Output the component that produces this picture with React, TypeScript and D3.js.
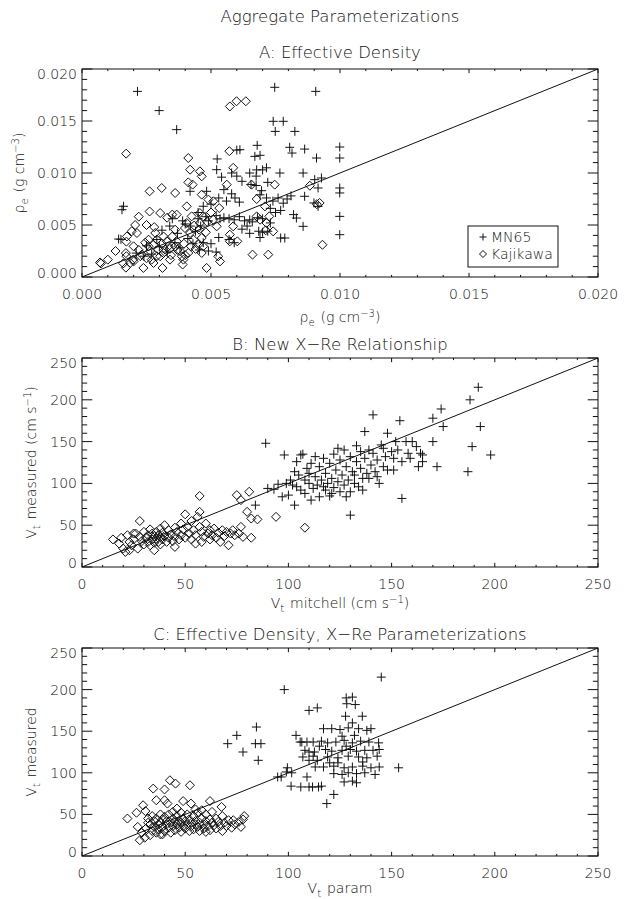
import React from "react";
import * as d3 from "d3";

const W = 630;
const H = 899;
const LEFT = 82;
const RIGHT = 598;

// ---------- Panel A: Effective density (g cm^-3) ----------
const aTicks = [0, 0.005, 0.01, 0.015, 0.02];
const aMN65: [number, number][] = [
  [0.00215, 0.01785], [0.00299, 0.016], [0.00367, 0.01417], [0.00747, 0.01824], [0.00906, 0.01785],
  [0.00161, 0.0068], [0.00155, 0.00647], [0.00142, 0.00365], [0.00151, 0.00362],
  [0.00741, 0.01497], [0.0078, 0.01497], [0.00749, 0.014], [0.00825, 0.014],
  [0.00679, 0.01266], [0.00612, 0.01224], [0.006, 0.0122],
  [0.00805, 0.01247], [0.00814, 0.01192], [0.00863, 0.0123], [0.00909, 0.01144],
  [0.00524, 0.01135], [0.00522, 0.01032], [0.00541, 0.0096],
  [0.0067, 0.0116], [0.0069, 0.0117], [0.007, 0.0103], [0.00715, 0.0105], [0.00677, 0.0103],
  [0.00767, 0.01], [0.00857, 0.01], [0.00902, 0.00936], [0.00928, 0.00952], [0.00915, 0.00856],
  [0.00863, 0.00776], [0.00899, 0.00712], [0.00915, 0.00679], [0.00857, 0.00487], [0.00831, 0.00567],
  [0.00999, 0.0125], [0.00999, 0.01144], [0.00999, 0.00856], [0.00999, 0.00808], [0.00999, 0.00583], [0.00999, 0.00407],
  [0.00786, 0.00375], [0.0077, 0.00375],
  [0.00419, 0.00824], [0.00483, 0.00824], [0.0055, 0.0084], [0.0058, 0.008], [0.00593, 0.0076],
  [0.0061, 0.0072], [0.0056, 0.0073], [0.0053, 0.0076], [0.005, 0.007], [0.0047, 0.0068],
  [0.0045, 0.0062], [0.0048, 0.0058], [0.0052, 0.0059], [0.00535, 0.0056], [0.0055, 0.0057],
  [0.0057, 0.0056], [0.0059, 0.0055], [0.0061, 0.0058], [0.0063, 0.0054], [0.0065, 0.0055],
  [0.0066, 0.0053], [0.0068, 0.0057], [0.007, 0.0056], [0.0073, 0.0052], [0.0062, 0.0046],
  [0.0064, 0.0049], [0.00685, 0.0044], [0.007, 0.0043], [0.0072, 0.0044], [0.0069, 0.0038],
  [0.0053, 0.0038], [0.0057, 0.0036], [0.0059, 0.0033], [0.0065, 0.0042],
  [0.00655, 0.0089], [0.00675, 0.0088], [0.00696, 0.0083], [0.00715, 0.0076], [0.0069, 0.0079],
  [0.0074, 0.0073], [0.0076, 0.0076], [0.0078, 0.0071], [0.00795, 0.0075], [0.0081, 0.0078],
  [0.0075, 0.0062], [0.0073, 0.0066], [0.0077, 0.0064], [0.0082, 0.006],
  [0.00675, 0.0097], [0.0065, 0.01], [0.0062, 0.0092], [0.006, 0.0097], [0.0058, 0.01], [0.0072, 0.0091],
  [0.0021, 0.0023], [0.0024, 0.002], [0.0027, 0.0022], [0.003, 0.0029], [0.0033, 0.0024],
  [0.0036, 0.0033], [0.0038, 0.0028], [0.0039, 0.0054], [0.004, 0.0051], [0.0042, 0.0049],
  [0.0044, 0.0044], [0.0046, 0.0049], [0.0041, 0.0037], [0.0043, 0.0032], [0.0047, 0.0033],
  [0.005, 0.0032], [0.00455, 0.0026], [0.0034, 0.0049], [0.0031, 0.0045], [0.0037, 0.0042],
  [0.0049, 0.0025], [0.0052, 0.0024], [0.0029, 0.0036], [0.0025, 0.003], [0.0045, 0.0056],
  [0.0049, 0.0054], [0.0035, 0.0056],
];
const aKajikawa: [number, number][] = [
  [0.0007, 0.0014], [0.00073, 0.0013], [0.001, 0.00167], [0.0013, 0.0025], [0.00171, 0.01186],
  [0.0017, 0.0023], [0.00172, 0.002], [0.0017, 0.0009], [0.00174, 0.0039], [0.00172, 0.0034],
  [0.00206, 0.005], [0.00213, 0.00423], [0.00193, 0.0044], [0.002, 0.00295], [0.00198, 0.00167],
  [0.00187, 0.00135], [0.00226, 0.002], [0.00232, 0.00215], [0.00238, 0.00087], [0.00262, 0.00824],
  [0.00262, 0.0063], [0.00258, 0.00359], [0.00258, 0.00295], [0.00264, 0.0025], [0.0027, 0.00167],
  [0.00277, 0.00135], [0.00284, 0.00423], [0.0029, 0.00359], [0.00277, 0.0031], [0.00296, 0.00263],
  [0.00303, 0.00199], [0.00309, 0.00856], [0.00303, 0.00615], [0.00312, 0.00087], [0.00316, 0.0039],
  [0.00329, 0.00343], [0.00335, 0.00295], [0.00322, 0.00263], [0.00316, 0.00231], [0.00341, 0.00167],
  [0.00361, 0.00808], [0.00367, 0.006], [0.00361, 0.00455], [0.00367, 0.00343], [0.00361, 0.00295],
  [0.0038, 0.0025], [0.00387, 0.00199], [0.00393, 0.00167], [0.0039, 0.0012], [0.00412, 0.01144],
  [0.00419, 0.01032], [0.00412, 0.0091], [0.00429, 0.00888], [0.00406, 0.00679], [0.00425, 0.00583],
  [0.00406, 0.00519], [0.00399, 0.00471], [0.00419, 0.00423], [0.00432, 0.00359], [0.00422, 0.00295],
  [0.00412, 0.00231], [0.00457, 0.01016], [0.00464, 0.00968], [0.00464, 0.00792], [0.00457, 0.00615],
  [0.0047, 0.00583], [0.00457, 0.00519], [0.00454, 0.00455], [0.00464, 0.00375], [0.00451, 0.00311],
  [0.0047, 0.00295], [0.00464, 0.00231], [0.00483, 0.00087], [0.0049, 0.00744], [0.00509, 0.00551],
  [0.00522, 0.00487], [0.00528, 0.00199], [0.00535, 0.0015], [0.00509, 0.00728], [0.00532, 0.00663],
  [0.00573, 0.0164], [0.00599, 0.0169], [0.00635, 0.0169], [0.00571, 0.0121], [0.00586, 0.0105],
  [0.00561, 0.00888], [0.00573, 0.00407], [0.00573, 0.00343], [0.00602, 0.00343], [0.00586, 0.00487],
  [0.00657, 0.00888], [0.00661, 0.00215], [0.00677, 0.0075], [0.00709, 0.00679], [0.00677, 0.00583],
  [0.0069, 0.00551], [0.00726, 0.00583], [0.00715, 0.00519], [0.00712, 0.00449], [0.00722, 0.00215],
  [0.00741, 0.00439], [0.00747, 0.00888], [0.00883, 0.00878], [0.00921, 0.00712], [0.00932, 0.0031],
  [0.0091, 0.007], [0.0022, 0.0026], [0.00245, 0.0033], [0.0025, 0.0018], [0.0029, 0.002],
  [0.0031, 0.0032], [0.0034, 0.0027], [0.0035, 0.0039], [0.00345, 0.0021], [0.0037, 0.0026],
  [0.00395, 0.0032], [0.004, 0.0021], [0.0044, 0.0027], [0.00435, 0.00495], [0.0048, 0.0043],
  [0.00485, 0.0053], [0.005, 0.0062], [0.0022, 0.0058], [0.0025, 0.005], [0.0028, 0.0048],
  [0.0033, 0.0057], [0.0035, 0.006], [0.0016, 0.0013], [0.002, 0.0015],
];

// ---------- Panel B: New X-Re relationship (cm s^-1) ----------
const bTicks = [0, 50, 100, 150, 200, 250];
const bMN65: [number, number][] = [
  [89, 148], [90, 94], [93, 93], [84, 74], [98, 134], [95, 99], [97, 84], [99, 100], [100, 86],
  [101, 104], [103, 114], [103, 74], [104, 96], [105, 110], [106, 134], [107, 135], [108, 88],
  [108, 104], [109, 118], [110, 100], [111, 124], [111, 80], [112, 94], [113, 108], [114, 98],
  [115, 84], [115, 120], [116, 104], [117, 130], [118, 92], [118, 112], [119, 100], [120, 85],
  [120, 124], [121, 106], [122, 95], [122, 135], [123, 116], [124, 102], [125, 90], [125, 128],
  [126, 110], [127, 98], [127, 140], [128, 120], [129, 104], [130, 62], [130, 90], [130, 132],
  [131, 114], [132, 100], [133, 126], [133, 145], [134, 96], [135, 118], [135, 138], [136, 106],
  [137, 162], [137, 130], [138, 112], [139, 106], [139, 140], [140, 122], [141, 182], [141, 136],
  [142, 114], [143, 128], [144, 100], [145, 146], [146, 120], [147, 132], [148, 160], [148, 116],
  [150, 138], [151, 116], [151, 130], [152, 150], [154, 175], [155, 82], [155, 126], [157, 150],
  [158, 136], [159, 130], [160, 150], [162, 144], [163, 120], [164, 136], [165, 134], [165, 126],
  [170, 150], [170, 178], [172, 120], [174, 189], [175, 168], [187, 114], [188, 200], [189, 144],
  [192, 215], [193, 168], [198, 134], [104, 126], [102, 98], [106, 92], [110, 112], [113, 132],
  [117, 96], [121, 88], [124, 142], [128, 84], [132, 110], [136, 92], [143, 108], [146, 142], [153, 140],
];
const bKajikawa: [number, number][] = [
  [15, 33], [18, 28], [19, 35], [20, 22], [21, 18], [22, 38], [23, 30], [24, 26], [25, 33],
  [26, 40], [27, 22], [28, 55], [28, 36], [29, 31], [30, 27], [30, 42], [31, 35], [32, 38],
  [32, 30], [33, 45], [33, 26], [34, 33], [34, 40], [35, 37], [35, 29], [36, 42], [36, 34],
  [37, 38], [37, 30], [38, 46], [38, 36], [38, 27], [39, 41], [39, 33], [40, 50], [40, 37],
  [41, 30], [42, 44], [42, 35], [43, 39], [44, 31], [45, 47], [45, 36], [46, 42], [47, 33],
  [48, 52], [48, 38], [49, 45], [50, 63], [50, 35], [51, 48], [52, 40], [53, 55], [53, 33],
  [54, 44], [55, 38], [56, 60], [57, 85], [57, 66], [57, 48], [58, 42], [58, 30], [59, 36],
  [60, 52], [61, 40], [62, 44], [62, 33], [63, 38], [64, 46], [65, 35], [66, 41], [67, 30],
  [68, 44], [69, 37], [70, 42], [71, 26], [72, 40], [73, 44], [74, 38], [75, 86], [76, 40],
  [77, 80], [77, 48], [78, 36], [80, 66], [81, 90], [82, 35], [82, 58], [85, 57], [94, 60],
  [108, 47], [55, 28], [45, 24], [35, 20], [25, 40], [23, 20],
];

// ---------- Panel C: Effective density + X-Re parameterizations ----------
const cTicks = [0, 50, 100, 150, 200, 250];
const cMN65: [number, number][] = [
  [98, 200], [84.5, 155], [70.6, 135], [75, 145], [78, 125], [84, 135], [86.7, 135], [85.4, 115],
  [94.8, 95], [96.5, 95], [99.5, 106], [99, 101], [101.6, 100], [101.3, 84], [103.7, 145],
  [110, 175], [114, 178], [105.7, 137], [109, 137], [112, 137], [110, 125], [112.6, 125],
  [110, 115], [114, 115], [109, 95], [111.7, 83], [114.6, 83], [145, 215], [128, 190], [131, 191],
  [128.3, 183], [132.4, 182], [127.7, 168], [135.8, 168], [131, 160],
  [117, 153], [121, 153], [125, 152], [129, 154], [134, 153], [138, 151], [140, 153],
  [106.5, 137], [116, 138], [119, 136], [123, 137], [127, 139], [131, 136], [135, 138], [139, 137], [143.7, 136],
  [108, 127], [118, 128], [121, 126], [126, 127], [130, 128], [133, 126], [137, 127], [141, 127], [144, 128],
  [107, 119], [112, 120], [119, 119], [124, 118], [129, 120], [134, 119], [138, 118], [143, 120],
  [113, 107], [117, 107], [122, 108], [127, 106], [131, 107], [136, 108], [140, 106], [144, 107],
  [122, 99], [126, 98], [129, 100], [133, 99], [137, 100], [142, 98],
  [127, 89], [131, 90], [133, 88], [106, 83], [110, 83], [116, 84], [122, 74], [118.6, 63],
  [153.4, 106], [124, 112], [128, 132], [132, 145], [126, 144], [136, 113], [120, 112], [115, 132],
];
const cKajikawa: [number, number][] = [
  [22, 45], [26.4, 52], [30.7, 54], [29.6, 61], [34.5, 81], [40, 80], [42.6, 91], [45.3, 87],
  [52.3, 85], [40, 67], [41.4, 63], [49, 66], [52.8, 63], [62, 66], [44, 53], [67.6, 59],
  [73.3, 43], [78.6, 48], [78, 44], [72.5, 34], [28, 19], [30.4, 22], [39, 26], [36, 67],
  [27, 35], [29, 28], [32, 40], [33, 25],
  [31, 33], [32, 45], [33, 38], [34, 30], [34, 48], [35, 42], [35, 35], [36, 28], [36, 45],
  [37, 38], [37, 32], [38, 50], [38, 40], [38, 26], [39, 35], [39, 44], [40, 30], [40, 47],
  [41, 38], [41, 42], [42, 34], [42, 50], [43, 28], [43, 40], [44, 45], [44, 36], [45, 42],
  [45, 31], [46, 38], [46, 48], [47, 34], [47, 42], [48, 40], [48, 52], [48, 29], [49, 36],
  [49, 45], [50, 42], [50, 33], [51, 38], [51, 50], [52, 30], [52, 44], [53, 40], [53, 36],
  [54, 48], [54, 32], [55, 42], [55, 38], [56, 35], [56, 52], [57, 40], [57, 30], [58, 45],
  [59, 38], [59, 33], [60, 42], [60, 50], [61, 36], [62, 44], [62, 31], [63, 40], [64, 37],
  [65, 45], [65, 33], [66, 41], [67, 36], [68, 48], [68, 30], [69, 40], [70, 36], [71, 43],
  [74, 38], [76, 41], [77, 35], [60, 29], [55, 56], [46, 57], [58, 55], [63, 53],
];

const FONT = "'DejaVu Sans', 'Liberation Sans', sans-serif";
const INK = "#111";
const TICK_FS = 14;
const LABEL_FS = 14;
const TITLE_FS = 16.5;

type Pt = [number, number];

const plusPath = (cx: number, cy: number, r: number) =>
  `M${cx - r},${cy}H${cx + r}M${cx},${cy - r}V${cy + r}`;
const diamondPath = (cx: number, cy: number, r: number) =>
  `M${cx},${cy - r}L${cx + r},${cy}L${cx},${cy + r}L${cx - r},${cy}Z`;

interface PanelProps {
  top: number;
  bottom: number;
  max: number;
  ticks: number[];
  minorStep: number;
  fmt: (v: number) => string;
  plus: Pt[];
  diamonds: Pt[];
  title: string;
  titleY: number;
  xLabel: React.ReactNode;
  yLabel: React.ReactNode;
  yLabelX: number;
  xLabelDy: number;
  legend?: boolean;
}

function Panel(p: PanelProps) {
  const x = d3.scaleLinear().domain([0, p.max]).range([LEFT, RIGHT]);
  const y = d3.scaleLinear().domain([0, p.max]).range([p.bottom, p.top]);
  const minor = d3.range(0, p.max + p.minorStep / 2, p.minorStep);
  const ph = p.bottom - p.top;
  const pw = RIGHT - LEFT;
  const yMaj = 0.02 * pw;
  const xMaj = 0.02 * ph;
  const isMajor = (v: number) =>
    p.ticks.some((t) => Math.abs(t - v) < p.minorStep / 10);
  const line = d3.line<Pt>().x((d) => x(d[0])).y((d) => y(d[1]));
  const midY = (p.top + p.bottom) / 2;
  const midX = (LEFT + RIGHT) / 2;
  return (
    <g>
      <text x={midX} y={p.titleY} textAnchor="middle" fontSize={TITLE_FS} fill={INK}>
        {p.title}
      </text>
      {minor.map((v, i) => {
        const maj = isMajor(v);
        const ly = maj ? yMaj : yMaj / 2;
        const lx = maj ? xMaj : xMaj / 2;
        const xv = x(v);
        const yv = y(v);
        return (
          <g key={i} stroke={INK} strokeWidth={1}>
            <line x1={xv} x2={xv} y1={p.bottom} y2={p.bottom - lx} />
            <line x1={xv} x2={xv} y1={p.top} y2={p.top + lx} />
            <line x1={LEFT} x2={LEFT + ly} y1={yv} y2={yv} />
            <line x1={RIGHT} x2={RIGHT - ly} y1={yv} y2={yv} />
          </g>
        );
      })}
      <rect x={LEFT} y={p.top} width={pw} height={ph} fill="none" stroke={INK} strokeWidth={1} />
      {p.ticks.map((t, i) => (
        <text key={"xl" + i} x={x(t)} y={p.bottom + 22} textAnchor="middle" fontSize={TICK_FS} fill={INK}>
          {p.fmt(t)}
        </text>
      ))}
      {p.ticks.map((t, i) => {
        const nudge = i === 0 ? -4 : i === p.ticks.length - 1 ? 5 : 0;
        return (
          <text key={"yl" + i} x={LEFT - 5} y={y(t) + 5 + nudge} textAnchor="end" fontSize={TICK_FS} fill={INK}>
            {p.fmt(t)}
          </text>
        );
      })}
      <text x={midX} y={p.bottom + p.xLabelDy} textAnchor="middle" fontSize={LABEL_FS} fill={INK}>
        {p.xLabel}
      </text>
      <text
        transform={`translate(${p.yLabelX},${midY}) rotate(-90)`}
        textAnchor="middle"
        fontSize={LABEL_FS}
        fill={INK}
      >
        {p.yLabel}
      </text>
      <path d={line([[0, 0], [p.max, p.max]]) || ""} fill="none" stroke={INK} strokeWidth={1} />
      <g fill="none" stroke={INK} strokeWidth={1}>
        {p.plus.map((d, i) => (
          <path key={"p" + i} d={plusPath(x(d[0]), y(d[1]), 4.5)} />
        ))}
        {p.diamonds.map((d, i) => (
          <path key={"d" + i} d={diamondPath(x(d[0]), y(d[1]), 4.5)} />
        ))}
      </g>
      {p.legend && (
        <g>
          <rect x={468} y={226} width={90} height={41} fill="#fff" stroke={INK} strokeWidth={1} />
          <path d={plusPath(483, 237, 3.5)} stroke={INK} fill="none" />
          <text x={491} y={242} fontSize={LABEL_FS} fill={INK}>MN65</text>
          <path d={diamondPath(483, 254, 3.5)} stroke={INK} fill="none" />
          <text x={491} y={259} fontSize={LABEL_FS} fill={INK}>Kajikawa</text>
        </g>
      )}
    </g>
  );
}

const sub = (s: string) => (
  <>
    <tspan dy={4} fontSize={10}>{s}</tspan>
    <tspan dy={-4}>{"\u200A"}</tspan>
  </>
);
const sup = (s: string) => (
  <>
    <tspan dy={-5} fontSize={10}>{s}</tspan>
    <tspan dy={5}>{")"}</tspan>
  </>
);

export default function App() {
  return (
    <svg width={W} height={H} style={{ display: "block", position: "absolute", left: 0, top: 0 }}
      fontFamily={FONT} fontWeight={300}>
      <rect width={W} height={H} fill="#fff" />
      <text x={(LEFT + RIGHT) / 2} y={22} textAnchor="middle" fontSize={TITLE_FS} fill={INK}>
        Aggregate Parameterizations
      </text>
      <Panel
        top={69} bottom={277} max={0.02} ticks={aTicks} minorStep={0.001}
        fmt={d3.format(".3f")} plus={aMN65} diamonds={aKajikawa}
        title="A: Effective Density" titleY={58}
        xLabel={<>{"ρ"}{sub("e")}{" (g cm"}{sup("−3")}</>}
        yLabel={<>{"ρ"}{sub("e")}{" (g cm"}{sup("−3")}</>}
        yLabelX={24} xLabelDy={45} legend
      />
      <Panel
        top={358} bottom={567} max={250} ticks={bTicks} minorStep={10}
        fmt={d3.format("d")} plus={bMN65} diamonds={bKajikawa}
        title="B: New X−Re Relationship" titleY={350}
        xLabel={<>{"V"}{sub("t")}{" mitchell (cm s"}{sup("−1")}</>}
        yLabel={<>{"V"}{sub("t")}{" measured (cm s"}{sup("−1")}</>}
        yLabelX={36} xLabelDy={41}
      />
      <Panel
        top={648} bottom={856} max={250} ticks={cTicks} minorStep={10}
        fmt={d3.format("d")} plus={cMN65} diamonds={cKajikawa}
        title="C: Effective Density, X−Re Parameterizations" titleY={640}
        xLabel={<>{"V"}{sub("t")}{" param"}</>}
        yLabel={<>{"V"}{sub("t")}{" measured"}</>}
        yLabelX={36} xLabelDy={37}
      />
    </svg>
  );
}
